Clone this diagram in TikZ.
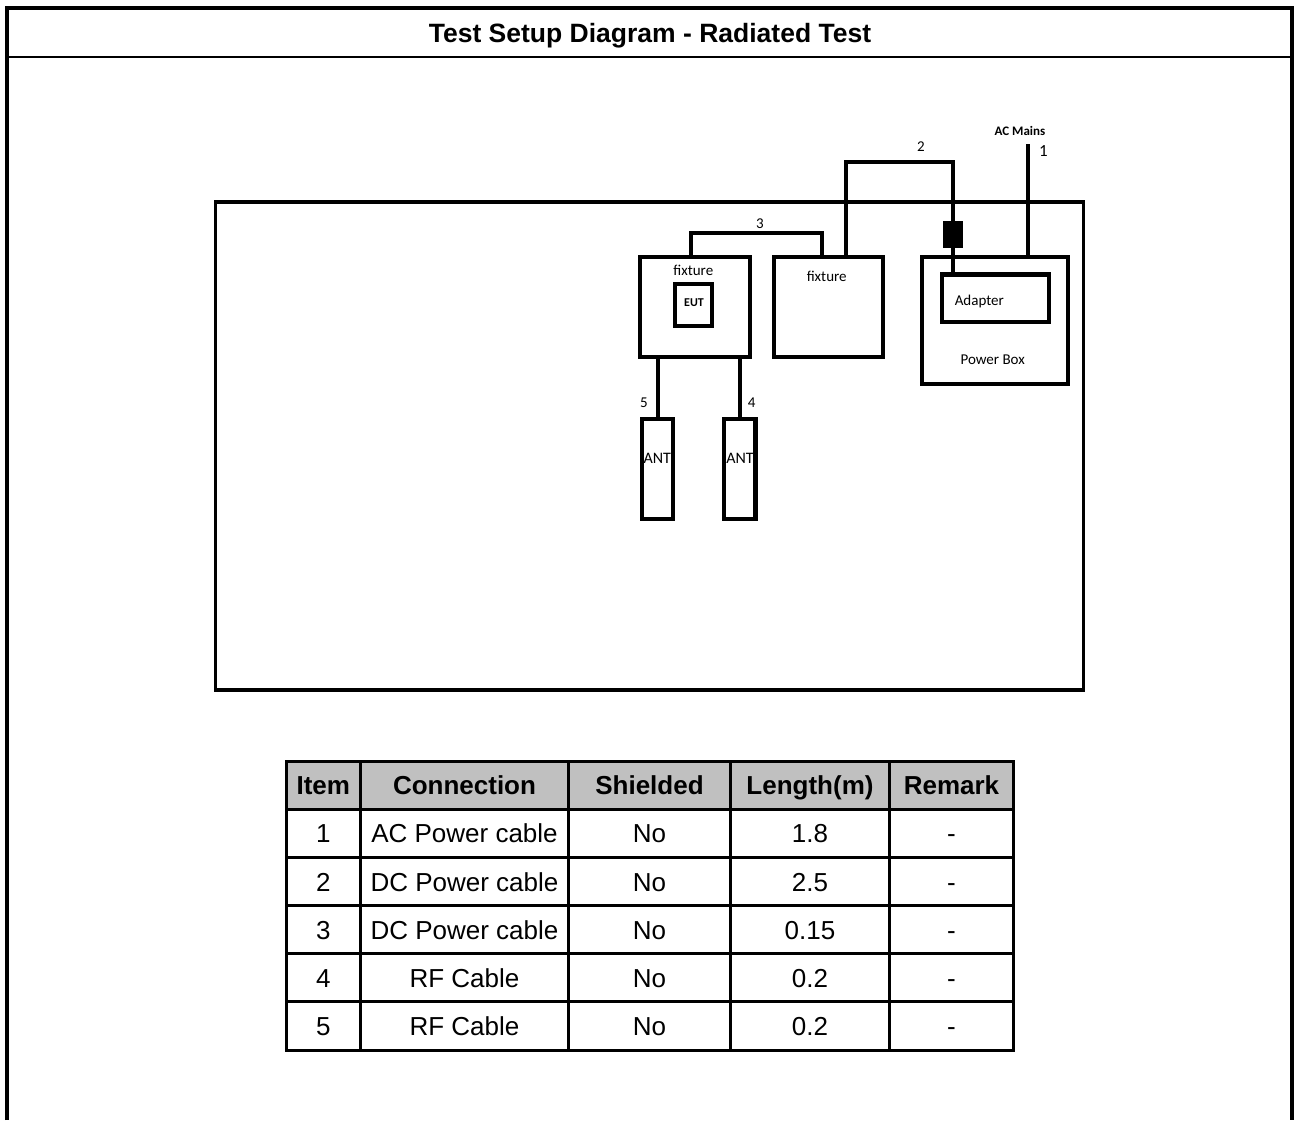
\documentclass[tikz,border=0pt]{standalone}
\usepackage{fontspec}
\setmainfont{Liberation Sans}
\newfontfamily\carlito{Carlito}
\definecolor{hdrgray}{RGB}{192, 192, 192}
\usetikzlibrary{positioning, calc}

\tikzset{
  unitbox/.style={draw, line width=4.5pt, inner sep=0pt, fill=white},
  cable/.style={line width=4pt},
  lbl/.style={font=\carlito\fontsize{15}{18}\selectfont, inner sep=0pt},
  cell/.style={draw, line width=3pt, inner sep=0pt, minimum height=48.1pt, text height=18.7pt, text depth=0pt, font=\fontsize{26}{30}\selectfont},
  hdrcell/.style={cell, fill=hdrgray, font=\bfseries\fontsize{26}{30}\selectfont},
}

\begin{document}
\begin{tikzpicture}[x=1pt, y=-1pt]
  \useasboundingbox (0,0) rectangle (1295,1120);

  % Frame and title
  \draw[line width=4pt] (7,1120) -- (7,8) -- (1291.5,8) -- (1291.5,1120);
  \draw[line width=2.5pt] (7,57) -- (1291.5,57);
  \node[font=\bfseries\fontsize{26.5}{30}\selectfont, text height=19pt, text depth=0pt, inner sep=0pt] (title) at (650,33) {Test Setup Diagram - Radiated Test};

  % Test room
  \node[draw, line width=3.5pt, inner sep=0pt, minimum width=868pt, minimum height=488pt] (room) at (649.5,446) {};

  % Units
  \node[unitbox, minimum width=110pt, minimum height=100pt] (fx1) at (695,307) {};
  \node[unitbox, minimum width=109pt, minimum height=100pt] (fx2) at (828.5,307) {};
  \node[unitbox, line width=4pt, minimum width=37.5pt, minimum height=42.5pt] (eut) at (693.3,304.8) {};
  \node[unitbox, minimum width=146pt, minimum height=127pt] (pbox) at (995,320.5) {};
  \node[unitbox, minimum width=107pt, minimum height=47.5pt] (adapter) at (995.5,298.3) {};
  \node[fill=black, inner sep=0pt, minimum width=20.6pt, minimum height=27pt] (plug) at (953,234.7) {};
  \node[unitbox, minimum width=31pt, minimum height=100pt] (ant5) at (657.5,469) {};
  \node[unitbox, minimum width=31.5pt, minimum height=100pt] (ant4) at (739.7,469) {};

  \node[lbl] (fx1txt) at (693.3,270.7) {fixture};
  \node[lbl] (fx2txt) at (826.7,276.7) {fixture};
  \node[lbl, font=\carlito\bfseries\fontsize{12}{14}\selectfont] (euttxt) at (694,302.7) {EUT};
  \node[lbl, text height=10pt, text depth=0pt] (adaptertxt) at (979.3,300) {Adapter};
  \node[lbl] (pboxtxt) at (992.7,360) {Power Box};
  \node[lbl, font=\carlito\fontsize{16}{18}\selectfont] (ant5txt) at (657.3,458.3) {ANT};
  \node[lbl, font=\carlito\fontsize{16}{18}\selectfont] (ant4txt) at (740,458.3) {ANT};
  \node[lbl, font=\carlito\bfseries\fontsize{13}{15}\selectfont] (mainstxt) at (1020,130.7) {AC Mains};

  % Cables
  \coordinate (mains) at (1028.3,144);
  \coordinate (c2l) at (846,161.7);
  \coordinate (c2r) at (953,161.7);
  \coordinate (c3l) at (690.7,233.3);
  \coordinate (c3r) at (822.3,233.3);
  \draw[cable] (mains) -- (pbox.north -| mains);
  \draw[cable] (fx2.north -| c2l) -- (c2l) -- (c2r) -- (plug.north);
  \draw[cable] (plug.south) -- (adapter.north -| plug.south);
  \draw[cable] (fx1.north -| c3l) -- (c3l) -- (c3r) -- (fx2.north -| c3r);
  \draw[cable] (fx1.south -| ant5.north) -- (ant5.north);
  \draw[cable] (fx1.south -| ant4.north) -- (ant4.north);

  \node[lbl, font=\carlito\fontsize{17}{18}\selectfont] (no1) at (1043.3,151) {1};
  \node[lbl] (no2) at (921,146.7) {2};
  \node[lbl] (no3) at (760,224) {3};
  \node[lbl] (no4) at (751.7,402.7) {4};
  \node[lbl] (no5) at (644,402.7) {5};

  % Cable table
  \node[hdrcell, minimum width=74.5pt] (hitem) at (323.25,785.5) {Item};
  \node[hdrcell, minimum width=208pt] (hconn) at (464.5,785.5) {Connection};
  \node[hdrcell, minimum width=162pt] (hshield) at (649.5,785.5) {Shielded};
  \node[hdrcell, minimum width=159pt] (hlen) at (810,785.5) {Length(m)};
  \node[hdrcell, minimum width=124pt] (hrem) at (951.5,785.5) {Remark};
  \foreach \itm/\conn/\len [count=\r] in {1/AC Power cable/1.8, 2/DC Power cable/2.5, 3/DC Power cable/0.15, 4/RF Cable/0.2, 5/RF Cable/0.2} {
    \pgfmathsetmacro\yc{785.5+48.1*\r}
    \node[cell, minimum width=74.5pt] (item\r) at (323.25,\yc) {\itm};
    \node[cell, minimum width=208pt] (conn\r) at (464.5,\yc) {\conn};
    \node[cell, minimum width=162pt] (shield\r) at (649.5,\yc) {No};
    \node[cell, minimum width=159pt] (len\r) at (810,\yc) {\len};
    \node[cell, minimum width=124pt] (rem\r) at (951.5,\yc) {-};
  }
\end{tikzpicture}
\end{document}
